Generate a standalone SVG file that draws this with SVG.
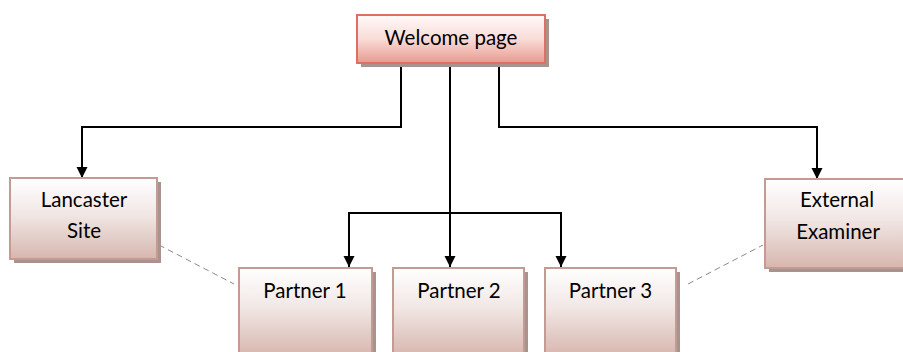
<svg xmlns="http://www.w3.org/2000/svg" width="903" height="352" viewBox="0 0 903 352">
  <defs>
    <linearGradient id="gRed" x1="0" y1="0" x2="0" y2="1">
      <stop offset="0" stop-color="#fffafa"/>
      <stop offset="0.5" stop-color="#f9dcd8"/>
      <stop offset="1" stop-color="#e89a90"/>
    </linearGradient>
    <linearGradient id="gRose" x1="0" y1="0" x2="0" y2="1">
      <stop offset="0" stop-color="#ffffff"/>
      <stop offset="0.45" stop-color="#f1e7e5"/>
      <stop offset="1" stop-color="#d7b6ae"/>
    </linearGradient>
    <marker id="arr" markerUnits="userSpaceOnUse" markerWidth="12" markerHeight="12" refX="11" refY="6" orient="auto">
      <path d="M0,0.5 L11,6 L0,11.5 z" fill="#000"/>
    </marker>
  </defs>
  <style>
    .shadow { fill: #a8938f; }
    .box { fill: url(#gRose); stroke: #c39b92; stroke-width: 2; }
    .boxRed { fill: url(#gRed); stroke: #e06f63; stroke-width: 2; }
    .lbl { font-family: Lato, "Liberation Sans", sans-serif; font-size: 20.5px; fill: #000; text-anchor: middle; }
    .conn { fill: none; stroke: #000; stroke-width: 2; }
    .dash { fill: none; stroke: #8a8a8a; stroke-width: 1; stroke-dasharray: 6 4; }
  </style>
  <rect width="903" height="352" fill="#ffffff"/>

  <g id="connectors">
    <path class="conn" d="M401,63 V127 H82 V178" marker-end="url(#arr)"/>
    <path class="conn" d="M499,63 V127 H817 V179" marker-end="url(#arr)"/>
    <path class="conn" d="M450,63 V213"/>
    <path class="conn" d="M348,213 H562"/>
    <path class="conn" d="M349,213 V267" marker-end="url(#arr)"/>
    <path class="conn" d="M450,213 V267" marker-end="url(#arr)"/>
    <path class="conn" d="M561,213 V267" marker-end="url(#arr)"/>
    <path class="dash" d="M159,245 L234,284"/>
    <path class="dash" d="M688,284 L763,245"/>
  </g>

  <g id="welcome">
    <rect class="shadow" x="361" y="19" width="188" height="48"/>
    <rect class="boxRed" x="357" y="15" width="188" height="48"/>
    <text class="lbl" x="451" y="45">Welcome page</text>
  </g>

  <g id="lancaster">
    <rect class="shadow" x="14" y="182" width="147" height="81"/>
    <rect class="box" x="10" y="178" width="147" height="81"/>
    <text class="lbl" x="84" y="207">Lancaster</text>
    <text class="lbl" x="84" y="238">Site</text>
  </g>

  <g id="external">
    <rect class="shadow" x="769" y="183" width="146" height="89"/>
    <rect class="box" x="765" y="179" width="146" height="89"/>
    <text class="lbl" x="837" y="207">External</text>
    <text class="lbl" x="838" y="239">Examiner</text>
  </g>

  <g id="partner1">
    <rect class="shadow" x="243" y="272" width="133" height="88"/>
    <rect class="box" x="239" y="268" width="133" height="88"/>
    <text class="lbl" x="305" y="298">Partner 1</text>
  </g>

  <g id="partner2">
    <rect class="shadow" x="397" y="272" width="131" height="88"/>
    <rect class="box" x="393" y="268" width="131" height="88"/>
    <text class="lbl" x="459" y="298">Partner 2</text>
  </g>

  <g id="partner3">
    <rect class="shadow" x="549" y="272" width="131" height="88"/>
    <rect class="box" x="545" y="268" width="131" height="88"/>
    <text class="lbl" x="610.5" y="298">Partner 3</text>
  </g>
</svg>
